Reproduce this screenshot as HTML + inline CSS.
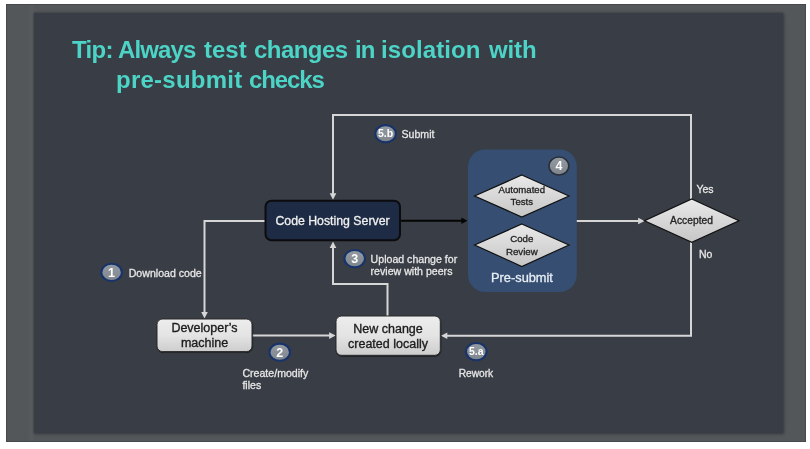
<!DOCTYPE html>
<html><head><meta charset="utf-8">
<style>
html,body{margin:0;padding:0;background:#fff;width:810px;height:449px;overflow:hidden;font-family:"Liberation Sans",sans-serif;}
#frame{position:absolute;left:6px;top:4px;width:798px;height:436px;background:#53575a;border:1px solid #46494c;background-image:linear-gradient(90deg,rgba(0,0,0,0) 0,rgba(0,0,0,0) 20px,rgba(255,255,255,0.025) 24px,rgba(255,255,255,0.025) 26px,rgba(0,0,0,0) 27px);}
#slide{position:absolute;left:34px;top:13px;width:748.5px;height:420px;background:#393d45;box-shadow:0 0 2px rgba(40,30,32,0.55),1px 1px 3px rgba(20,20,25,0.3);}
.t{position:absolute;white-space:nowrap;color:#4cd4c6;font-weight:bold;font-size:24px;line-height:24px;}
svg{position:absolute;left:0;top:0;}
.t,svg{will-change:transform;}
</style></head><body>
<div id="frame"></div>
<div id="slide"></div>
<div class="t" style="left:72.0px;top:38.4px;letter-spacing:-0.68px">Tip:</div>
<div class="t" style="left:118.4px;top:38.4px;letter-spacing:-0.87px">Always</div>
<div class="t" style="left:204.0px;top:38.4px;letter-spacing:0px">test</div>
<div class="t" style="left:254.4px;top:38.4px;letter-spacing:-0.55px">changes</div>
<div class="t" style="left:354.6px;top:38.4px;letter-spacing:-1.0px">in</div>
<div class="t" style="left:381.2px;top:38.4px;letter-spacing:0.1px">isolation</div>
<div class="t" style="left:488.8px;top:38.4px;letter-spacing:-0.13px">with</div>
<div class="t" style="left:115.8px;top:68px;letter-spacing:0.24px">pre-submit</div>
<div class="t" style="left:249.4px;top:68px;letter-spacing:-1.1px">checks</div>
<svg width="810" height="449" viewBox="0 0 810 449" font-family="Liberation Sans, sans-serif">
<defs>
 <linearGradient id="dg" x1="0" y1="0" x2="0" y2="1">
  <stop offset="0" stop-color="#e9e9e9"/><stop offset="1" stop-color="#c6c6c6"/>
 </linearGradient>
 <linearGradient id="bg" x1="0" y1="0" x2="0" y2="1">
  <stop offset="0" stop-color="#ededed"/><stop offset="0.5" stop-color="#e4e4e4"/><stop offset="1" stop-color="#cdcdcd"/>
 </linearGradient>
 <linearGradient id="cg" x1="0" y1="0" x2="0" y2="1">
  <stop offset="0" stop-color="#959ba2"/><stop offset="1" stop-color="#7f858c"/>
 </linearGradient>
 <filter id="sh" x="-10%" y="-10%" width="120%" height="130%">
  <feDropShadow dx="0.4" dy="0.9" stdDeviation="0.6" flood-color="#000" flood-opacity="0.55"/>
 </filter>
</defs>
<!-- white connector lines -->
<g fill="none" stroke="#d6d6d6" stroke-width="2">
 <polyline points="333,196 333,115 691,115 691,199.5"/>
 <polyline points="691,242 691,335.8 446,335.8"/>
 <polyline points="265,221 204.5,221 204.5,313"/>
 <polyline points="387.5,316 387.5,284 333,284 333,246"/>
 <line x1="252.5" y1="335.6" x2="330" y2="335.6"/>
 <line x1="576" y1="221" x2="639" y2="221"/>
</g>
<g fill="#d6d6d6">
 <path d="M333,199.8 L329.7,193.3 L336.3,193.3 Z"/>
 <path d="M333,241.6 L329.7,248.1 L336.3,248.1 Z"/>
 <path d="M204.5,318.6 L201.2,312.1 L207.8,312.1 Z"/>
 <path d="M335.6,335.6 L329.1,332.3 L329.1,338.9 Z"/>
 <path d="M441,335.8 L447.3,332.5 L447.3,339.1 Z"/>
 <path d="M644.6,221 L638.1,217.7 L638.1,224.3 Z"/>
</g>
<!-- black arrow -->
<line x1="400" y1="220.7" x2="463" y2="220.7" stroke="#050505" stroke-width="2.1"/>
<path d="M467.4,220.7 L461.4,217.5 L461.4,223.9 Z" fill="#050505"/>
<!-- Code Hosting Server -->
<rect x="265.5" y="200.8" width="134.5" height="39.5" rx="6" fill="#1e2b44" stroke="#0c0c0e" stroke-width="2"/>
<text x="332.5" y="224.6" fill="#f0f0f0" stroke="#f0f0f0" stroke-width="0.3" font-size="12.3" text-anchor="middle">Code Hosting Server</text>
<!-- Pre-submit -->
<rect x="468" y="149.5" width="108.8" height="142.5" rx="17" fill="#354e71"/>
<path d="M521.8,175 L569,196 L521.8,217 L474.6,196 Z" fill="url(#dg)" stroke="#111" stroke-width="1.2"/>
<path d="M521.8,224 L569,245 L521.8,266.5 L474.6,245 Z" fill="url(#dg)" stroke="#111" stroke-width="1.2"/>
<text x="521.8" y="193.4" fill="#222" stroke="#222" stroke-width="0.3" font-size="9.6" text-anchor="middle">Automated</text>
<text x="521.8" y="204.8" fill="#222" stroke="#222" stroke-width="0.3" font-size="9.6" text-anchor="middle">Tests</text>
<text x="521.8" y="242.2" fill="#222" stroke="#222" stroke-width="0.3" font-size="9.7" text-anchor="middle">Code</text>
<text x="521.8" y="254.5" fill="#222" stroke="#222" stroke-width="0.3" font-size="9.7" text-anchor="middle">Review</text>
<text x="522" y="281.6" fill="#e8eef5" stroke="#e8eef5" stroke-width="0.3" font-size="12.8" text-anchor="middle">Pre-submit</text>
<ellipse cx="558.9" cy="166" rx="9.9" ry="9" fill="url(#cg)" stroke="#2b3038" stroke-width="1.6"/>
<text x="558.9" y="170.2" fill="#fff" font-size="12.5" font-weight="bold" text-anchor="middle">4</text>
<!-- Accepted -->
<path d="M691.8,199 L739,220.7 L691.8,242.4 L644.5,220.7 Z" fill="url(#dg)" stroke="#111" stroke-width="1.2"/>
<text x="691.5" y="224.1" fill="#222" stroke="#222" stroke-width="0.3" font-size="10.3" text-anchor="middle">Accepted</text>
<text x="696.4" y="193" fill="#e8e8e8" stroke="#e8e8e8" stroke-width="0.28" font-size="10.5">Yes</text>
<text x="699" y="258.4" fill="#e8e8e8" stroke="#e8e8e8" stroke-width="0.28" font-size="10.5">No</text>
<!-- Developer&#8217;s machine -->
<rect x="157" y="319" width="95" height="32.6" rx="5.5" fill="url(#bg)" stroke="#2a2a2a" stroke-width="1" filter="url(#sh)"/>
<text x="204.5" y="332.4" fill="#1c1c1c" stroke="#1c1c1c" stroke-width="0.35" font-size="12.5" text-anchor="middle">Developer&#8217;s</text>
<text x="204.5" y="347.4" fill="#1c1c1c" stroke="#1c1c1c" stroke-width="0.35" font-size="12.5" text-anchor="middle">machine</text>
<!-- New change -->
<rect x="336" y="316" width="104.3" height="39.3" rx="5.5" fill="url(#bg)" stroke="#2a2a2a" stroke-width="1" filter="url(#sh)"/>
<text x="388" y="332.8" fill="#1c1c1c" stroke="#1c1c1c" stroke-width="0.35" font-size="12.5" text-anchor="middle">New change</text>
<text x="388" y="347.9" fill="#1c1c1c" stroke="#1c1c1c" stroke-width="0.35" font-size="12.5" text-anchor="middle">created locally</text>
<!-- step badges -->
<g stroke="#17336b" stroke-width="2.1" fill="url(#cg)">
 <ellipse cx="111.6" cy="272.4" rx="10.3" ry="8.6"/>
 <ellipse cx="279.7" cy="352.2" rx="10.3" ry="8.6"/>
 <ellipse cx="354.7" cy="258.6" rx="10.3" ry="8.6"/>
 <ellipse cx="385.6" cy="133.7" rx="10.3" ry="8.6"/>
 <ellipse cx="476.3" cy="351.6" rx="10.3" ry="8.6"/>
</g>
<g fill="#fff" font-size="12.5" font-weight="bold" text-anchor="middle">
 <text x="111.6" y="276.8">1</text>
 <text x="279.7" y="356.7">2</text>
 <text x="354.7" y="263.2">3</text>
</g>
<g fill="#fff" font-size="10.5" font-weight="bold" text-anchor="middle">
 <text x="385.6" y="137.4">5.b</text>
 <text x="476.3" y="355.3">5.a</text>
</g>
<g fill="#e8e8e8" stroke="#e8e8e8" stroke-width="0.28" font-size="10.6">
 <text x="128.7" y="277">Download code</text>
 <text x="242.4" y="377.3">Create/modify</text>
 <text x="242.4" y="389">files</text>
 <text x="370.6" y="263.1">Upload change for</text>
 <text x="370.6" y="274.7">review with peers</text>
 <text x="401.5" y="137.9">Submit</text>
 <text x="475.9" y="376.5" text-anchor="middle" font-size="10.2">Rework</text>
</g>
</svg>
</body></html>
